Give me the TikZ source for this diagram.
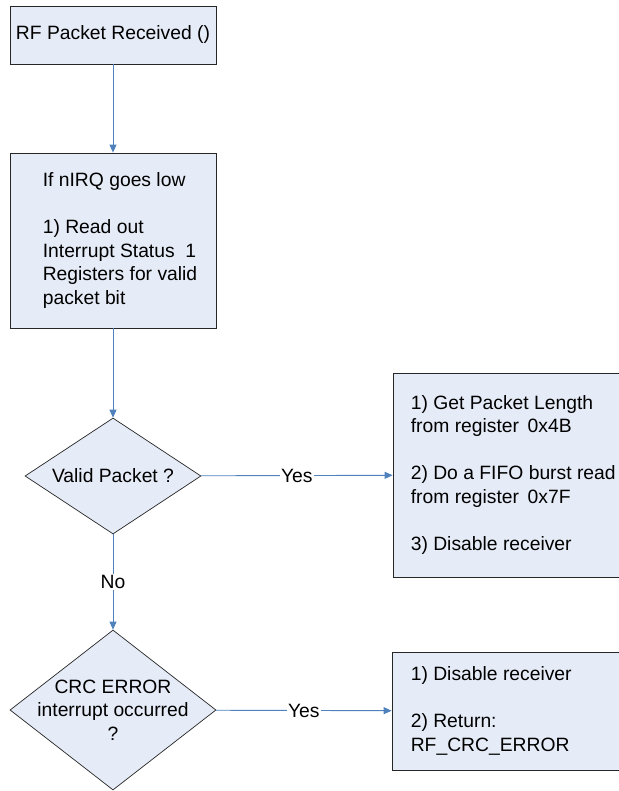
\documentclass[tikz,border=0pt]{standalone}
\usepackage{fontspec}
\setmainfont{Liberation Sans}
\usetikzlibrary{positioning, arrows.meta, shapes.geometric, shadows}

\definecolor{boxfill}{RGB}{230,236,247}
\definecolor{flowblue}{RGB}{79,129,189}

\begin{document}
\begin{tikzpicture}[x=1pt, y=-1pt,
      font=\fontsize{19.3}{23.5}\selectfont,
      procbox/.style={draw=black!85, fill=boxfill, line width=0.8pt, inner sep=2pt,
        drop shadow={shadow xshift=1.2pt, shadow yshift=-1.2pt, fill=black!40, opacity=1}},
      decision/.style={diamond, draw=black!85, fill=boxfill, line width=0.7pt, inner sep=0pt},
      txt/.style={align=left, inner sep=0pt},
      flow/.style={draw=flowblue, line width=0.9pt, -{Triangle[length=8pt, width=7pt]}},
      lbl/.style={fill=white, inner sep=1pt}]
    \useasboundingbox (0,0) rectangle (618,791);
    % left column
    \node[procbox, minimum width=206pt, minimum height=58pt] (start) at (113,35)
      {RF Packet Received ()};
    \node[procbox, minimum width=206pt, minimum height=175pt] (irq) at (113,240.5) {};
    \node[txt, right=33pt of irq.west] (irqtxt)
      {If nIRQ goes low\\[\baselineskip]
       1) Read out\\ Interrupt Status\ \ 1\\ Registers for valid\\ packet bit};
    \node[decision, minimum width=176pt, minimum height=116pt] (valid) at (113,476) {};
    \node[txt, align=center] (validtxt) at (valid) {Valid Packet ?};
    \node[decision, minimum width=206pt, minimum height=160pt] (crc) at (113,710) {};
    \node[txt, align=center] (crctxt) at (crc) {CRC ERROR\\ interrupt occurred\\ ?};
    % right column
    \node[procbox, minimum width=247pt, minimum height=204pt] (read) at (516.5,475) {};
    \node[txt, right=18pt of read.west] (readtxt)
      {1) Get Packet Length\\ from register\,\ 0x4B\\[\baselineskip]
       2) Do a FIFO burst read\\ from register\,\ 0x7F\\[\baselineskip]
       3) Disable receiver};
    \node[procbox, minimum width=247pt, minimum height=118pt] (fail) at (515.5,711) {};
    \node[txt, right=19pt of fail.west] (failtxt)
      {1) Disable receiver\\[\baselineskip]
       2) Return:\\ RF\_CRC\_ERROR};
    % connectors
    \draw[flow] (start) -- (irq);
    \draw[flow] (irq) -- (valid);
    \draw[flow] (valid) -- node[lbl] {No} (crc);
    \draw[flow] (valid) -- node[lbl] {Yes} (read);
    \draw[flow] (crc) -- node[lbl] {Yes} (fail);
  \end{tikzpicture}
\end{document}
